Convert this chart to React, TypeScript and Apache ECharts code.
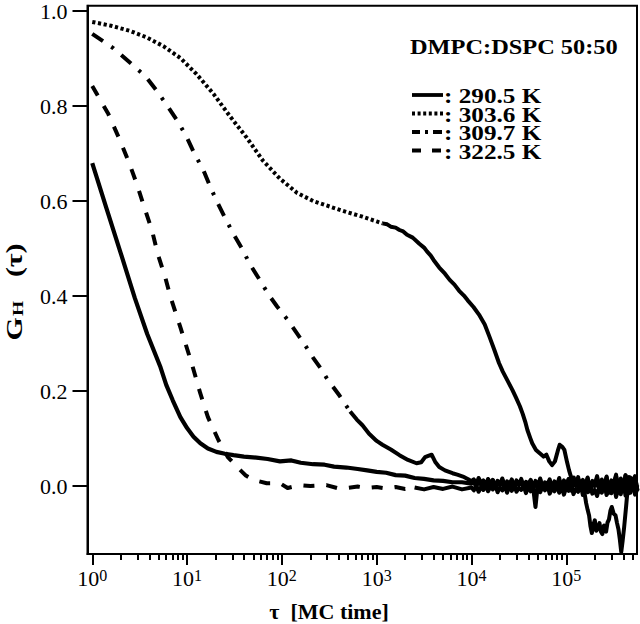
import React, { useEffect, useRef } from "react";
import * as echarts from "echarts";

// ---- data (tau in MC time, G_H values) ----
const tau290 = [1, 1.41, 2.0, 2.82, 3.8, 5.25, 6.03, 7.08, 8.5, 10, 11.7, 13.8, 16.6, 20.4, 25.1, 30.9, 39.8, 53.7, 70.8, 95.5, 126, 158, 214, 282, 355, 479, 631, 794, 1000, 1259, 1585, 1995, 2512, 3162, 3981, 5012, 6310, 7943, 10000];
const g290 = [0.68, 0.585, 0.49, 0.395, 0.32, 0.25, 0.213, 0.18, 0.145, 0.122, 0.104, 0.09, 0.079, 0.072, 0.068, 0.065, 0.062, 0.06, 0.057, 0.052, 0.054, 0.049, 0.046, 0.045, 0.041, 0.039, 0.036, 0.033, 0.03, 0.028, 0.023, 0.022, 0.017, 0.015, 0.012, 0.011, 0.008, 0.008, 0.005];

const tau303 = [1, 1.58, 2.51, 3.8, 5.62, 8.51, 12.6, 19.1, 28.2, 42.7, 63.1, 95.5, 145, 214, 324, 479, 708, 1000, 1150,
  1290, 1410, 1585, 1740, 1905, 2090, 2400, 2820, 3160, 3390, 3720, 3980, 4570, 5250, 5890, 6610, 7410, 8320, 9120, 10500, 12000, 13800, 15500, 17400, 19500, 21400, 24000, 26900, 29500, 32400, 34700, 37200, 38900, 41700, 43700, 47900, 52500, 57500, 61700, 66100, 70800, 75900, 81300, 85100, 91200, 95500, 102000, 107000, 115000, 120000, 126000, 130000, 135000, 140000, 145000, 150000, 155000, 162000, 168000, 174000, 180000, 186000, 193000, 200000, 207000, 214000, 224000, 232000, 240000, 250000, 263000, 272000, 282000, 292000, 302000, 316000, 331000, 343000, 355000, 367000, 380000, 393000, 407000, 427000, 442000, 457000, 473000, 490000, 507000, 525000, 545000, 562000];
const g303 = [0.977, 0.969, 0.958, 0.944, 0.926, 0.901, 0.867, 0.825, 0.779, 0.733, 0.685, 0.647, 0.617, 0.6, 0.588, 0.577, 0.567, 0.557, 0.553,
  0.551, 0.546, 0.544, 0.539, 0.536, 0.529, 0.523, 0.51, 0.502, 0.494, 0.485, 0.476, 0.46, 0.447, 0.434, 0.424, 0.411, 0.401, 0.391, 0.377, 0.361, 0.34, 0.314, 0.287, 0.259, 0.241, 0.222, 0.203, 0.186, 0.168, 0.152, 0.133, 0.118, 0.101, 0.09, 0.076, 0.069, 0.062, 0.066, 0.052, 0.044, 0.052, 0.074, 0.087, 0.082, 0.076, 0.05, 0.033, 0.012, 0.018, 0.004, 0.014, -0.008, 0.01, 0.006, -0.004, -0.012, -0.036, -0.05, -0.062, -0.085, -0.099, -0.081, -0.072, -0.094, -0.09, -0.078, -0.096, -0.101, -0.083, -0.096, -0.077, -0.07, -0.052, -0.044, -0.058, -0.062, -0.078, -0.091, -0.112, -0.139, -0.115, -0.088, -0.044, -0.01, 0.019, 0.004, -0.008, 0.016, 0.012, -0.006, 0.002];

const tau309 = [1, 1.66, 2.51, 3.63, 4.79, 6.31, 8.13, 10, 12, 14.8, 17.4, 20.4, 25.1, 30.2, 38, 45.7, 58.9, 72.4, 89.1, 115, 145, 178, 214, 263, 295, 407, 525,
  617, 708, 832, 1000, 1150, 1410, 1740, 2140, 2630, 2950, 3240, 3550, 3800, 4170, 4570, 5250, 6310, 7080, 8130, 9120, 10000];
const g309 = [0.952, 0.922, 0.891, 0.863, 0.832, 0.798, 0.765, 0.733, 0.699, 0.666, 0.632, 0.601, 0.565, 0.534, 0.5, 0.468, 0.433, 0.403, 0.378, 0.35, 0.321, 0.295, 0.27, 0.245, 0.228, 0.19, 0.157,
  0.14, 0.128, 0.11, 0.095, 0.087, 0.077, 0.065, 0.055, 0.048, 0.05, 0.061, 0.064, 0.066, 0.05, 0.04, 0.033, 0.027, 0.024, 0.02, 0.015, 0.01];

const tau322 = [1, 1.48, 1.91, 2.4, 2.95, 3.55, 4.27, 4.9, 5.89, 6.76, 8.51, 11.2, 13.8, 16.6, 21.4, 26.9, 33.9, 41.7, 50.1, 69.2, 95.5, 115, 155, 200, 295, 398, 479, 631, 794, 1000, 1259, 1585, 1995, 2512, 3162, 3981, 5012, 6310, 7943, 10000];
const g322 = [0.842, 0.783, 0.733, 0.685, 0.636, 0.586, 0.538, 0.489, 0.439, 0.395, 0.334, 0.258, 0.195, 0.145, 0.097, 0.061, 0.04, 0.022, 0.013, 0.006, 0.006, -0.004, 0.002, 0.0, 0.002, -0.005, -0.004, -0.001, -0.004, -0.002, -0.005, -0.002, -0.006, -0.003, -0.007, -0.002, -0.006, -0.001, -0.007, -0.003];

// shared long-time tail (tau) and the noisy values of three curves
const tailTau = [10590, 11220, 11890, 12590, 13340, 14130, 14960, 15850, 16790, 17780, 18840, 19950, 21130, 22390, 23710, 25120, 26610, 28180, 29850, 31620, 33500, 35480, 37580, 39810, 42170, 44670, 47320, 50120, 53090, 56230, 59570, 63100, 66830, 70790, 74990, 79430, 84140, 89130, 94410, 100000, 105900, 112200, 118900, 125900, 133400, 141300, 149600, 158500, 167900, 177800, 188400, 199500, 211300, 223900, 237100, 251200, 266100, 281800, 298500, 316200, 335000, 354800, 375800, 398100, 421700, 446700, 473200, 501200, 530900, 562300];
const tail290 = [0.009, -0.001, 0.011, 0.003, 0.008, -0.004, 0.01, 0.001, 0.012, -0.003, 0.007, 0.002, 0.013, -0.005, 0.006, 0.0, 0.011, -0.006, 0.009, 0.003, 0.012, -0.004, 0.005, -0.001, 0.01, -0.007, 0.008, 0.002, 0.013, -0.005, 0.004, -0.002, 0.011, -0.008, 0.007, 0.001, 0.012, -0.006, 0.009, -0.003, 0.014, -0.009, 0.006, 0.002, 0.015, -0.007, 0.01, -0.004, 0.016, -0.011, 0.008, 0.0, 0.017, -0.01, 0.011, -0.005, 0.018, -0.013, 0.009, 0.003, 0.02, -0.012, 0.013, -0.006, 0.022, -0.015, 0.014, -0.004, 0.019, -0.01];
const tail309 = [0.014, 0.004, 0.017, 0.007, 0.012, 0.001, 0.015, 0.005, 0.013, -0.001, 0.011, 0.003, 0.016, 0.0, 0.01, 0.004, 0.014, -0.003, 0.012, 0.002, 0.015, -0.002, 0.009, 0.005, 0.013, -0.004, 0.011, 0.0, 0.016, -0.006, 0.008, 0.003, 0.014, -0.005, 0.01, -0.001, 0.017, -0.007, 0.012, 0.001, 0.015, -0.009, 0.009, 0.004, 0.019, -0.008, 0.013, -0.003, 0.018, -0.01, 0.011, 0.002, 0.021, -0.012, 0.014, -0.004, 0.02, -0.014, 0.012, 0.005, 0.024, -0.011, 0.016, -0.007, 0.023, -0.016, 0.018, -0.003, 0.021, -0.009];
const tail322 = [-0.009, 0.001, -0.012, -0.002, -0.008, 0.003, -0.011, -0.001, -0.007, 0.004, -0.013, -0.003, -0.009, 0.002, -0.014, 0.0, -0.01, 0.003, -0.012, -0.004, -0.008, 0.001, -0.015, -0.001, -0.011, -0.003, -0.044, 0.004, -0.013, -0.002, -0.009, 0.003, -0.016, -0.005, -0.011, 0.002, -0.014, 0.0, -0.018, -0.003, -0.01, 0.005, -0.017, -0.006, -0.012, 0.004, -0.019, -0.004, -0.013, 0.005, -0.016, -0.008, -0.021, -0.001, -0.014, 0.007, -0.019, -0.007, -0.015, 0.006, -0.023, -0.005, -0.017, 0.008, -0.02, -0.009, -0.014, 0.009, -0.018, -0.006];

// tau from which the sampled curve is dense enough to look continuous
const dense303 = 1150;
const dense309 = 525;
const dense322 = 2512;

const seriesNames = ["290.5 K", "303.6 K", "309.7 K", "322.5 K"];
const legendTexts = [": 290.5 K", ": 303.6 K", ": 309.7 K", ": 322.5 K"];
const plotTitle = "DMPC:DSPC 50:50";
const xMajorExp = [0, 1, 2, 3, 4, 5];
const yTickValues = [0, 0.2, 0.4, 0.6, 0.8, 1.0];
const tauMin = 0.891;
const tauMax = 557000;
const gMin = -0.143;
const gMax = 1.011;

const SERIF = "'Liberation Serif', 'Times New Roman', serif";

function pairs(t: number[], g: number[]) {
  const n = Math.min(t.length, g.length);
  const out: number[][] = [];
  for (let i = 0; i < n; i++) out.push([Math.log10(t[i]), g[i]]);
  return out;
}
function splitAt(data: number[][], tauSplit: number) {
  const s = Math.log10(tauSplit);
  const a = data.filter((p) => p[0] <= s + 1e-9);
  const b = data.filter((p) => p[0] >= s - 1e-9);
  return [a, b];
}

export default function App() {
  const ref = useRef<HTMLDivElement>(null);
  useEffect(() => {
    if (!ref.current) return;
    const chart = echarts.init(ref.current, null, { renderer: "svg" });

    const d290 = pairs(tau290, g290).concat(pairs(tailTau, tail290));
    const d303 = pairs(tau303, g303);
    const d309 = pairs(tau309, g309).concat(pairs(tailTau, tail309));
    const d322 = pairs(tau322, g322).concat(pairs(tailTau, tail322));
    const [d303a, d303b] = splitAt(d303, dense303);
    const [d309a, d309b] = splitAt(d309, dense309);
    const [d322a, d322b] = splitAt(d322, dense322);

    const xMin = Math.log10(tauMin);
    const xMax = Math.log10(tauMax);
    const minor: number[] = [];
    for (let d = 0; d <= 5; d++) {
      for (let k = 2; k <= 9; k++) {
        const v = Math.log10(k) + d;
        if (v <= xMax) minor.push(v);
      }
    }

    const base = { type: "line", symbol: "none", silent: true, xAxisIndex: 0, yAxisIndex: 0 } as any;
    const W = 4;
    const mk = (name: string, data: number[][], type: any, width = W) => ({
      ...base,
      name,
      data,
      lineStyle: { color: "#000", width, type, cap: "butt", join: "round" },
    });

    const legendY = [95, 113.5, 132, 150.5];
    const dashes: any[] = [null, [3, 2.6], [8, 5, 3, 5, 9, 100], [9, 11, 9, 100]];
    const graphic: any[] = [];
    graphic.push({
      type: "text",
      x: 410,
      y: 47,
      scaleX: 1.16,
      style: { text: plotTitle, font: `bold 21px ${SERIF}`, fill: "#000", align: "left", verticalAlign: "middle" },
    });
    legendY.forEach((y, i) => {
      graphic.push({
        type: "line",
        shape: { x1: 412, y1: y, x2: 443, y2: y },
        style: { stroke: "#000", lineWidth: 3.8, lineDash: dashes[i] || undefined, lineCap: "butt" },
      });
      graphic.push({
        type: "text",
        x: 444,
        y: y + 1,
        scaleX: 1.2,
        style: { text: legendTexts[i], font: `bold 21px ${SERIF}`, fill: "#000", align: "left", verticalAlign: "middle" },
      });
    });
    graphic.push({
      type: "text",
      x: 329,
      y: 611,
      style: { text: "τ  [MC time]", font: `bold 22px ${SERIF}`, fill: "#000", align: "center", verticalAlign: "middle" },
    });
    graphic.push({
      type: "text",
      x: 14,
      y: 292,
      rotation: Math.PI / 2,
      scaleX: 1.3,
      style: {
        text: "{g|G}{s|H}{g|   (τ)}",
        align: "center",
        verticalAlign: "middle",
        fill: "#000",
        rich: {
          g: { font: `bold 23px ${SERIF}`, lineHeight: 23, verticalAlign: "top", fill: "#000" },
          s: { font: `bold 15px ${SERIF}`, lineHeight: 15, verticalAlign: "bottom", padding: [13, 1, 0, 1], fill: "#000" },
        },
      },
    });

    chart.setOption({
      animation: false,
      backgroundColor: "#fff",
      grid: { left: 87.5, right: 3, top: 5, bottom: 70, show: true, borderColor: "#000", borderWidth: 2, backgroundColor: "transparent" },
      xAxis: [
        {
          type: "value",
          min: xMin,
          max: xMax,
          position: "bottom",
          axisLine: { show: true, onZero: false, lineStyle: { color: "#000", width: 2 } },
          axisTick: { show: true, customValues: xMajorExp, length: 11, lineStyle: { color: "#000", width: 2 } },
          splitLine: { show: false },
          axisLabel: {
            customValues: xMajorExp,
            margin: 13,
            color: "#000",
            formatter: (v: number) => `{b|10}{sup|${Math.round(v)}}`,
            rich: {
              b: { fontFamily: SERIF, fontSize: 22, lineHeight: 22, verticalAlign: "bottom", color: "#000" },
              sup: { fontFamily: SERIF, fontSize: 16, lineHeight: 16, verticalAlign: "top", padding: [0, 0, 12, 0], color: "#000" },
            },
          },
        },
        {
          type: "value",
          min: xMin,
          max: xMax,
          position: "bottom",
          axisLine: { show: false, onZero: false },
          axisTick: { show: true, customValues: minor, length: 6, lineStyle: { color: "#000", width: 2 } },
          splitLine: { show: false },
          axisLabel: { show: false },
        },
      ],
      yAxis: {
        type: "value",
        min: gMin,
        max: gMax,
        axisLine: { show: true, onZero: false, lineStyle: { color: "#000", width: 2 } },
        axisTick: { show: true, customValues: yTickValues, length: 15, lineStyle: { color: "#000", width: 2 } },
        splitLine: { show: false },
        axisLabel: {
          customValues: yTickValues,
          margin: 20,
          color: "#000",
          fontFamily: SERIF,
          fontSize: 22,
          formatter: (v: number) => v.toFixed(1),
        },
      },
      graphic,
      series: [
        mk(seriesNames[0], d290, "solid", 4.2),
        mk(seriesNames[1], d303a, [3.2, 2.6]),
        mk(seriesNames[1] + " dense", d303b, "solid"),
        mk(seriesNames[2], d309a, [13, 10, 3, 10]),
        mk(seriesNames[2] + " dense", d309b, "solid"),
        mk(seriesNames[3], d322a, [11, 12]),
        mk(seriesNames[3] + " dense", d322b, "solid"),
      ],
    });
    return () => chart.dispose();
  }, []);
  return (
    <div
      ref={ref}
      style={{ position: "fixed", left: 0, top: 0, width: 640, height: 624, background: "#fff" }}
    />
  );
}
